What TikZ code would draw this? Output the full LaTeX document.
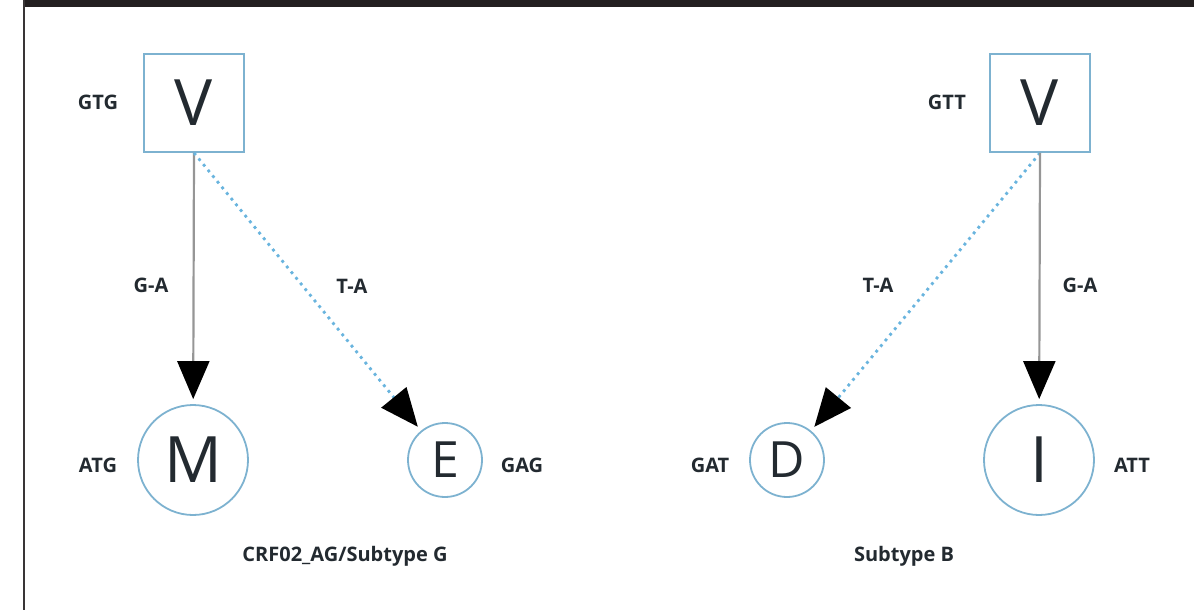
\documentclass[tikz,border=0pt]{standalone}
\usepackage{fontspec}
\setmainfont{Open Sans}
\usetikzlibrary{arrows.meta}
\definecolor{edgeblue}{RGB}{125,178,208}
\definecolor{dotblue}{RGB}{105,180,222}
\definecolor{ink}{RGB}{35,42,48}
\definecolor{barcol}{RGB}{35,31,32}
\definecolor{solidgray}{RGB}{150,150,150}
\begin{document}
\begin{tikzpicture}[x=1pt,y=-1pt,
  sqbox/.style={draw=edgeblue,line width=1.8pt,minimum width=100pt,minimum height=98pt,inner sep=0pt,font=\fontsize{64}{64}\selectfont,text=ink},
  bigc/.style={circle,draw=edgeblue,line width=1.8pt,minimum size=110pt,inner sep=0pt,font=\fontsize{64}{64}\selectfont,text=ink},
  smallc/.style={circle,draw=edgeblue,line width=1.8pt,minimum size=74pt,inner sep=0pt,font=\fontsize{50}{50}\selectfont,text=ink},
  lbl/.style={font=\bfseries\fontsize{20}{20}\selectfont,text=ink,inner sep=0pt},
  solidarr/.style={draw=solidgray,line width=2.2pt,-{Triangle[width=32pt,length=38pt,color=black]},shorten >=5pt},
  dotarr/.style={draw=dotblue,line width=2.8pt,dash pattern=on 2.8pt off 4.5pt,-{Triangle[width=32pt,length=38pt,color=black]},shorten >=5pt}
]
\useasboundingbox (0,0) rectangle (1194,610);
\fill[barcol] (23,0) rectangle (1194,7);
\draw[barcol!90,line width=2pt] (24,0) -- (24,610);

% left group
\node[sqbox] (V1) at (194,103) {V};
\node[bigc] (M) at (193,460) {M};
\node[smallc] (E) at (445,460) {E};
\node[lbl] (gtg) at (98,102) {GTG};
\node[lbl] (atg) at (98,465) {ATG};
\node[lbl] (gag) at (522,465) {GAG};
\node[lbl] (ga1) at (151,285) {G-A};
\node[lbl] (ta1) at (352,286) {T-A};
\node[lbl] (cap1) at (345,556) {CRF02\_AG/Subtype G};

% right group
\node[sqbox] (V2) at (1040,103) {V};
\node[bigc] (I) at (1039,460) {I};
\node[smallc] (D) at (787,460) {D};
\node[lbl] (gtt) at (947,102) {GTT};
\node[lbl] (gat) at (710,465) {GAT};
\node[lbl] (att) at (1132,465) {ATT};
\node[lbl] (ta2) at (878,285) {T-A};
\node[lbl] (ga2) at (1080,285) {G-A};
\node[lbl] (cap2) at (904,556) {Subtype B};

\draw[solidarr] (V1.south) -- (M);
\draw[dotarr] (V1.south) -- (E);
\draw[dotarr] (V2.south) -- (D);
\draw[solidarr] (V2.south) -- (I);
\end{tikzpicture}
\end{document}
